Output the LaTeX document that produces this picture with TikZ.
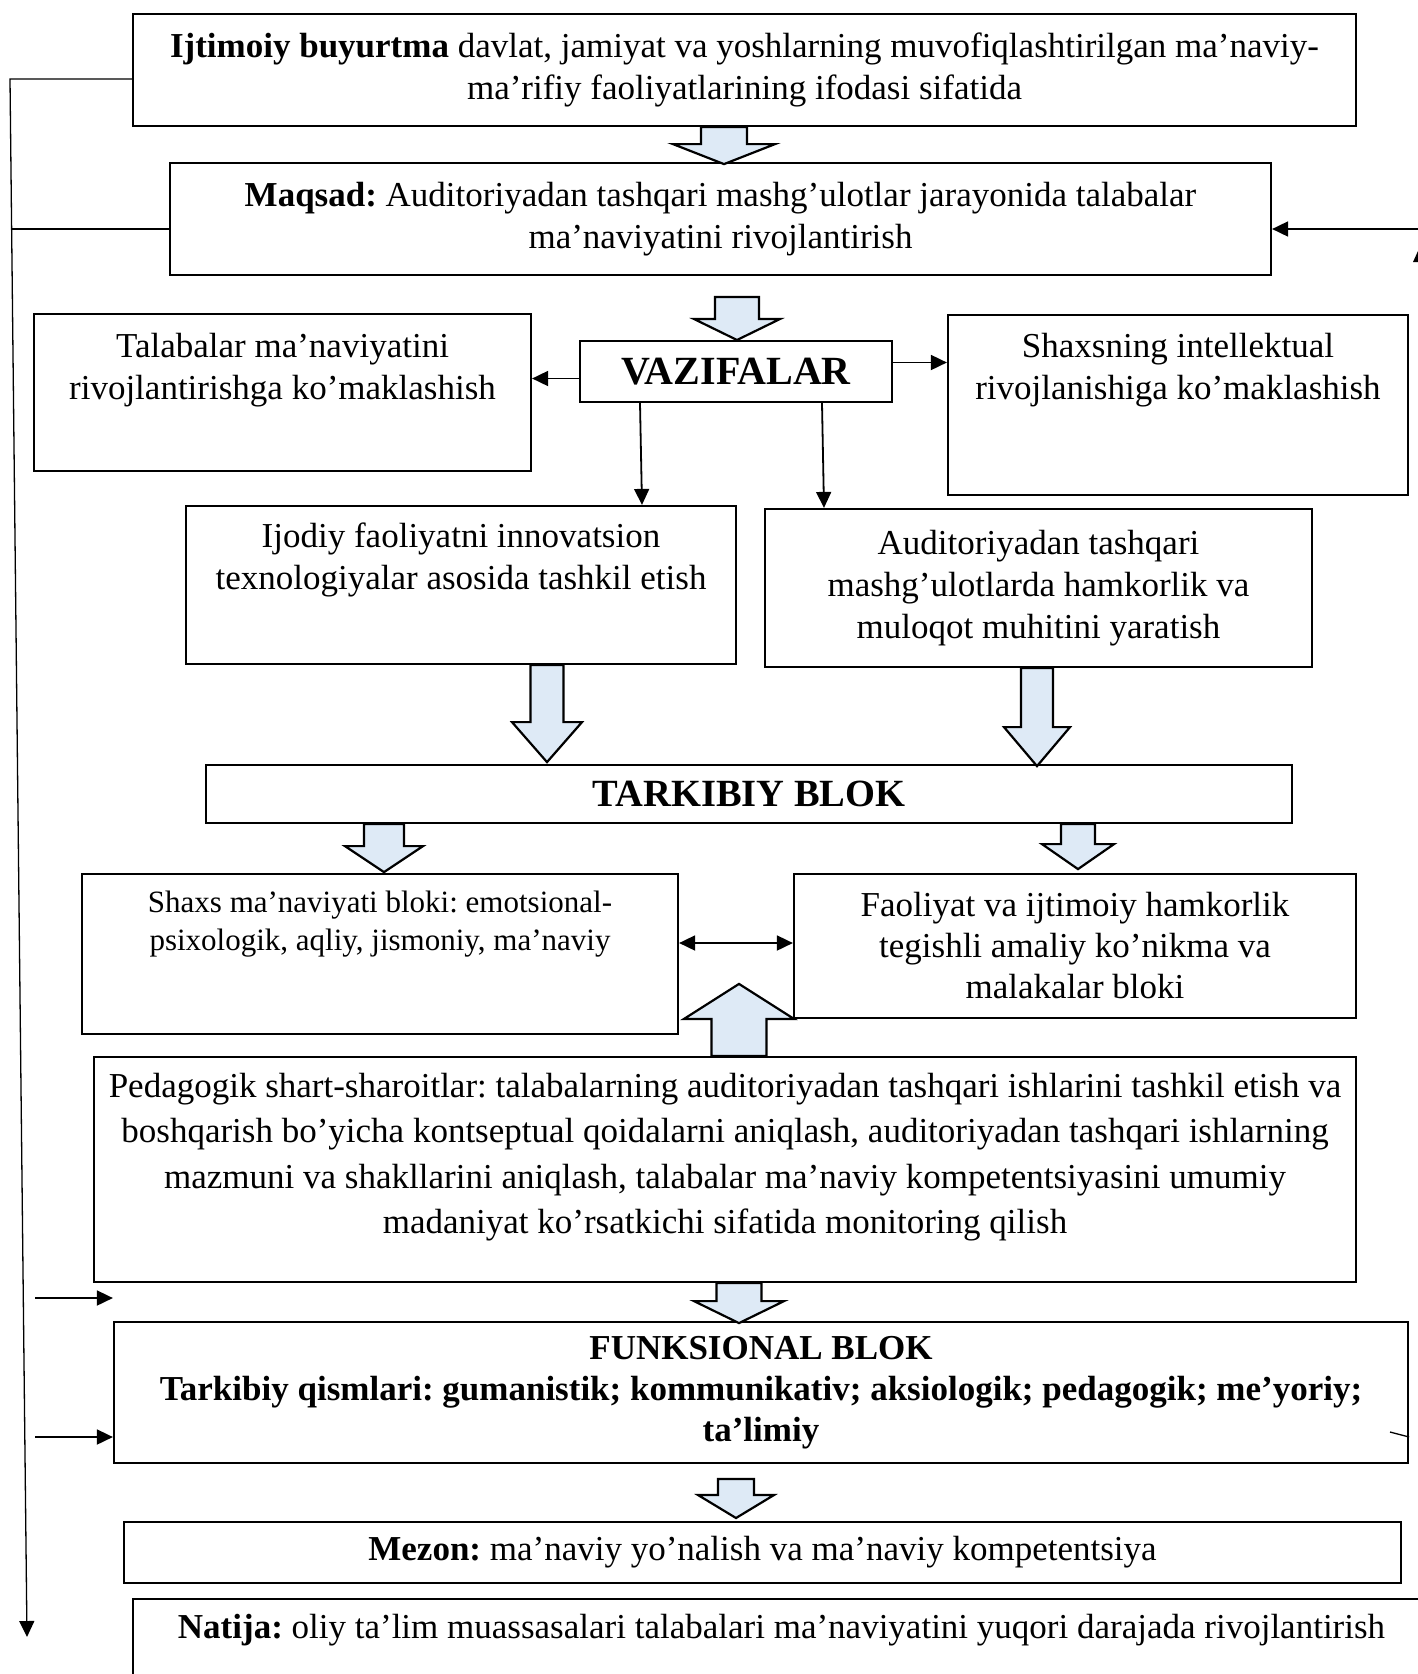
\documentclass[tikz,border=0pt]{standalone}
\usepackage{fontspec}
\setmainfont{Liberation Serif}
\usetikzlibrary{arrows.meta, positioning}
\frenchspacing

\definecolor{strelkarang}{RGB}{222,234,246}

% ichi bo'sh (keng) strelka
\tikzset{
  pics/kstrelka/.style n args={4}{code={
    \draw[line width=2.2pt, fill=strelkarang, line join=miter]
      (-#1,0) -- (#1,0) -- (#1,#3) -- (#2,#3) -- (0,#4) -- (-#2,#3) -- (-#1,#3) -- cycle;
  }}
}

\begin{document}
\begin{tikzpicture}[
            x=1pt, y=-1pt,
            >={Triangle[length=16pt,width=15pt]},
            blok/.style={rectangle, draw, line width=2.2pt,
                align=center, inner sep=0pt,
                font=\fontsize{35}{42}\selectfont
            },
            matn/.style={align=center, inner sep=0pt,
                font=\fontsize{35}{42}\selectfont
            },
            chiziq/.style={draw, line width=1.8pt, ->}
        ]
            \useasboundingbox (0,0) rectangle (1418,1674);
            \clip (0,0) rectangle (1418,1674);

            % Bloklar
            \node [blok, minimum width=1223pt, minimum height=112pt] (ijtimoiy) at (744.5,70)
                {\textbf{Ijtimoiy buyurtma} davlat, jamiyat va yoshlarning muvofiqlashtirilgan ma’naviy-\\ma’rifiy faoliyatlarining ifodasi sifatida};
            \node [blok, minimum width=1101pt, minimum height=112pt] (maqsad) at (720.5,219)
                {\textbf{Maqsad:} Auditoriyadan tashqari mashg’ulotlar jarayonida talabalar\\ma’naviyatini rivojlantirish};
            \node [blok, minimum width=312pt, minimum height=61pt, font=\fontsize{40}{46}\selectfont\bfseries] (vazifalar) at (736,371.5) {VAZIFALAR};
            \node [blok, minimum width=497pt, minimum height=157pt] (talabalar) at (282.5,392.5) {};
            \node [matn] (talabalar-t) at (282.5,370) {Talabalar ma’naviyatini\\rivojlantirishga ko’maklashish};
            \node [blok, minimum width=460pt, minimum height=180pt] (shaxsning) at (1178,405) {};
            \node [matn] (shaxsning-t) at (1178,370) {Shaxsning intellektual\\rivojlanishiga ko’maklashish};
            \node [blok, minimum width=550pt, minimum height=158pt] (ijodiy) at (461,585) {};
            \node [matn] (ijodiy-t) at (461,560) {Ijodiy faoliyatni innovatsion\\texnologiyalar asosida tashkil etish};
            \node [blok, minimum width=547pt, minimum height=158pt] (auditoriya) at (1038.5,588)
                {Auditoriyadan tashqari\\mashg’ulotlarda hamkorlik va\\muloqot muhitini yaratish};
            \node [blok, minimum width=1086pt, minimum height=58pt, font=\fontsize{38.5}{46}\selectfont\bfseries] (tarkibiy) at (749,794) {TARKIBIY BLOK};
            \node [blok, minimum width=596pt, minimum height=160pt] (shaxs) at (380,954) {};
            \node [matn, font=\fontsize{31}{38}\selectfont] (shaxs-t) at (380,924) {Shaxs ma’naviyati bloki: emotsional-\\psixologik, aqliy, jismoniy, ma’naviy};
            \node [blok, minimum width=562pt, minimum height=144pt, font=\fontsize{35}{41}\selectfont] (faoliyat) at (1075,946)
                {Faoliyat va ijtimoiy hamkorlik\\tegishli amaliy ko’nikma va\\malakalar bloki};
            \node [blok, minimum width=1262pt, minimum height=225pt] (pedagogik) at (725,1169.5) {};
            \node [matn, font=\fontsize{35}{45.3}\selectfont] (pedagogik-t) at (725,1157)
                {Pedagogik shart-sharoitlar: talabalarning auditoriyadan tashqari ishlarini tashkil etish va\\
                 boshqarish bo’yicha kontseptual qoidalarni aniqlash, auditoriyadan tashqari ishlarning\\
                 mazmuni va shakllarini aniqlash, talabalar ma’naviy kompetentsiyasini umumiy\\
                 madaniyat ko’rsatkichi sifatida monitoring qilish};
            \node [blok, minimum width=1294pt, minimum height=141pt, font=\fontsize{35}{41}\selectfont\bfseries] (funksional) at (761,1392.5)
                {FUNKSIONAL BLOK\\Tarkibiy qismlari: gumanistik; kommunikativ; aksiologik; pedagogik; me’yoriy;\\ta’limiy};
            \node [blok, minimum width=1277pt, minimum height=61pt] (mezon) at (762.5,1552.5)
                {\textbf{Mezon:} ma’naviy yo’nalish va ma’naviy kompetentsiya};
            \node [blok, minimum width=1297pt, minimum height=101pt] (natija) at (781.5,1649.5) {};
            \node [matn] (natija-t) at (781.5,1630)
                {\textbf{Natija:} oliy ta’lim muassasalari talabalari ma’naviyatini yuqori darajada rivojlantirish};

            % Keng strelkalar
            \pic at (724,0 |- ijtimoiy.south) {kstrelka={23}{51}{17}{37}};
            \pic at (737,297) {kstrelka={22}{43}{22}{43}};
            \pic at (547,0 |- ijodiy.south) {kstrelka={16.5}{35}{57}{97}};
            \pic at (1037,0 |- auditoriya.south) {kstrelka={16}{33}{59}{98}};
            \pic at (384,0 |- tarkibiy.south) {kstrelka={20}{39}{22}{48}};
            \pic at (1078,0 |- tarkibiy.south) {kstrelka={17}{36}{20}{45}};
            \pic at (739,0 |- pedagogik.north) {kstrelka={27.5}{55}{-37}{-72}};
            \pic at (739,0 |- pedagogik.south) {kstrelka={22.5}{45}{18}{40}};
            \pic at (736,1479) {kstrelka={18}{38}{16}{39}};

            % Oddiy strelkalar
            \path [chiziq] ([yshift=-7pt]vazifalar.west) -- ([yshift=-7pt]vazifalar.west -| talabalar.east);
            \path [chiziq] ([yshift=9pt]vazifalar.east) -- ([yshift=9pt]vazifalar.east -| shaxsning.west);
            \path [chiziq] (640,0 |- vazifalar.south) -- (642,0 |- ijodiy.north);
            \path [chiziq] (822,0 |- vazifalar.south) -- (824,0 |- auditoriya.north);
            \path [chiziq, <->] (shaxs.east |- 0,943) -- (faoliyat.west |- 0,943);

            % Chap tomondagi qaytish chizig'i
            \coordinate (chap-yuqori) at (10,79);
            \coordinate (chap-q) at (12,229);
            \coordinate (chap-past) at (27,1637);
            \path [chiziq, line width=1.3pt] ([yshift=-9pt]ijtimoiy.west) -- (chap-yuqori) -- (chap-past);
            \draw [line width=1.3pt] ([yshift=-10pt]maqsad.west) -- (chap-q);
            \coordinate (kirish1) at (35,1298);
            \coordinate (kirish2) at (35,1437);
            \path [chiziq] (kirish1) -- (kirish1 -| funksional.west);
            \path [chiziq] (kirish2) -- (kirish2 -| funksional.west);

            % O'ng tomondan
            \coordinate (ong) at (1420,229);
            \path [chiziq] (ong) -- (ong -| maqsad.east);
            \fill (1413,262) -- (1418,251) -- (1418,262) -- cycle;
            \draw [line width=1.3pt] (1390,1432) -- (funksional.east |- 0,1437);
        \end{tikzpicture}
\end{document}
